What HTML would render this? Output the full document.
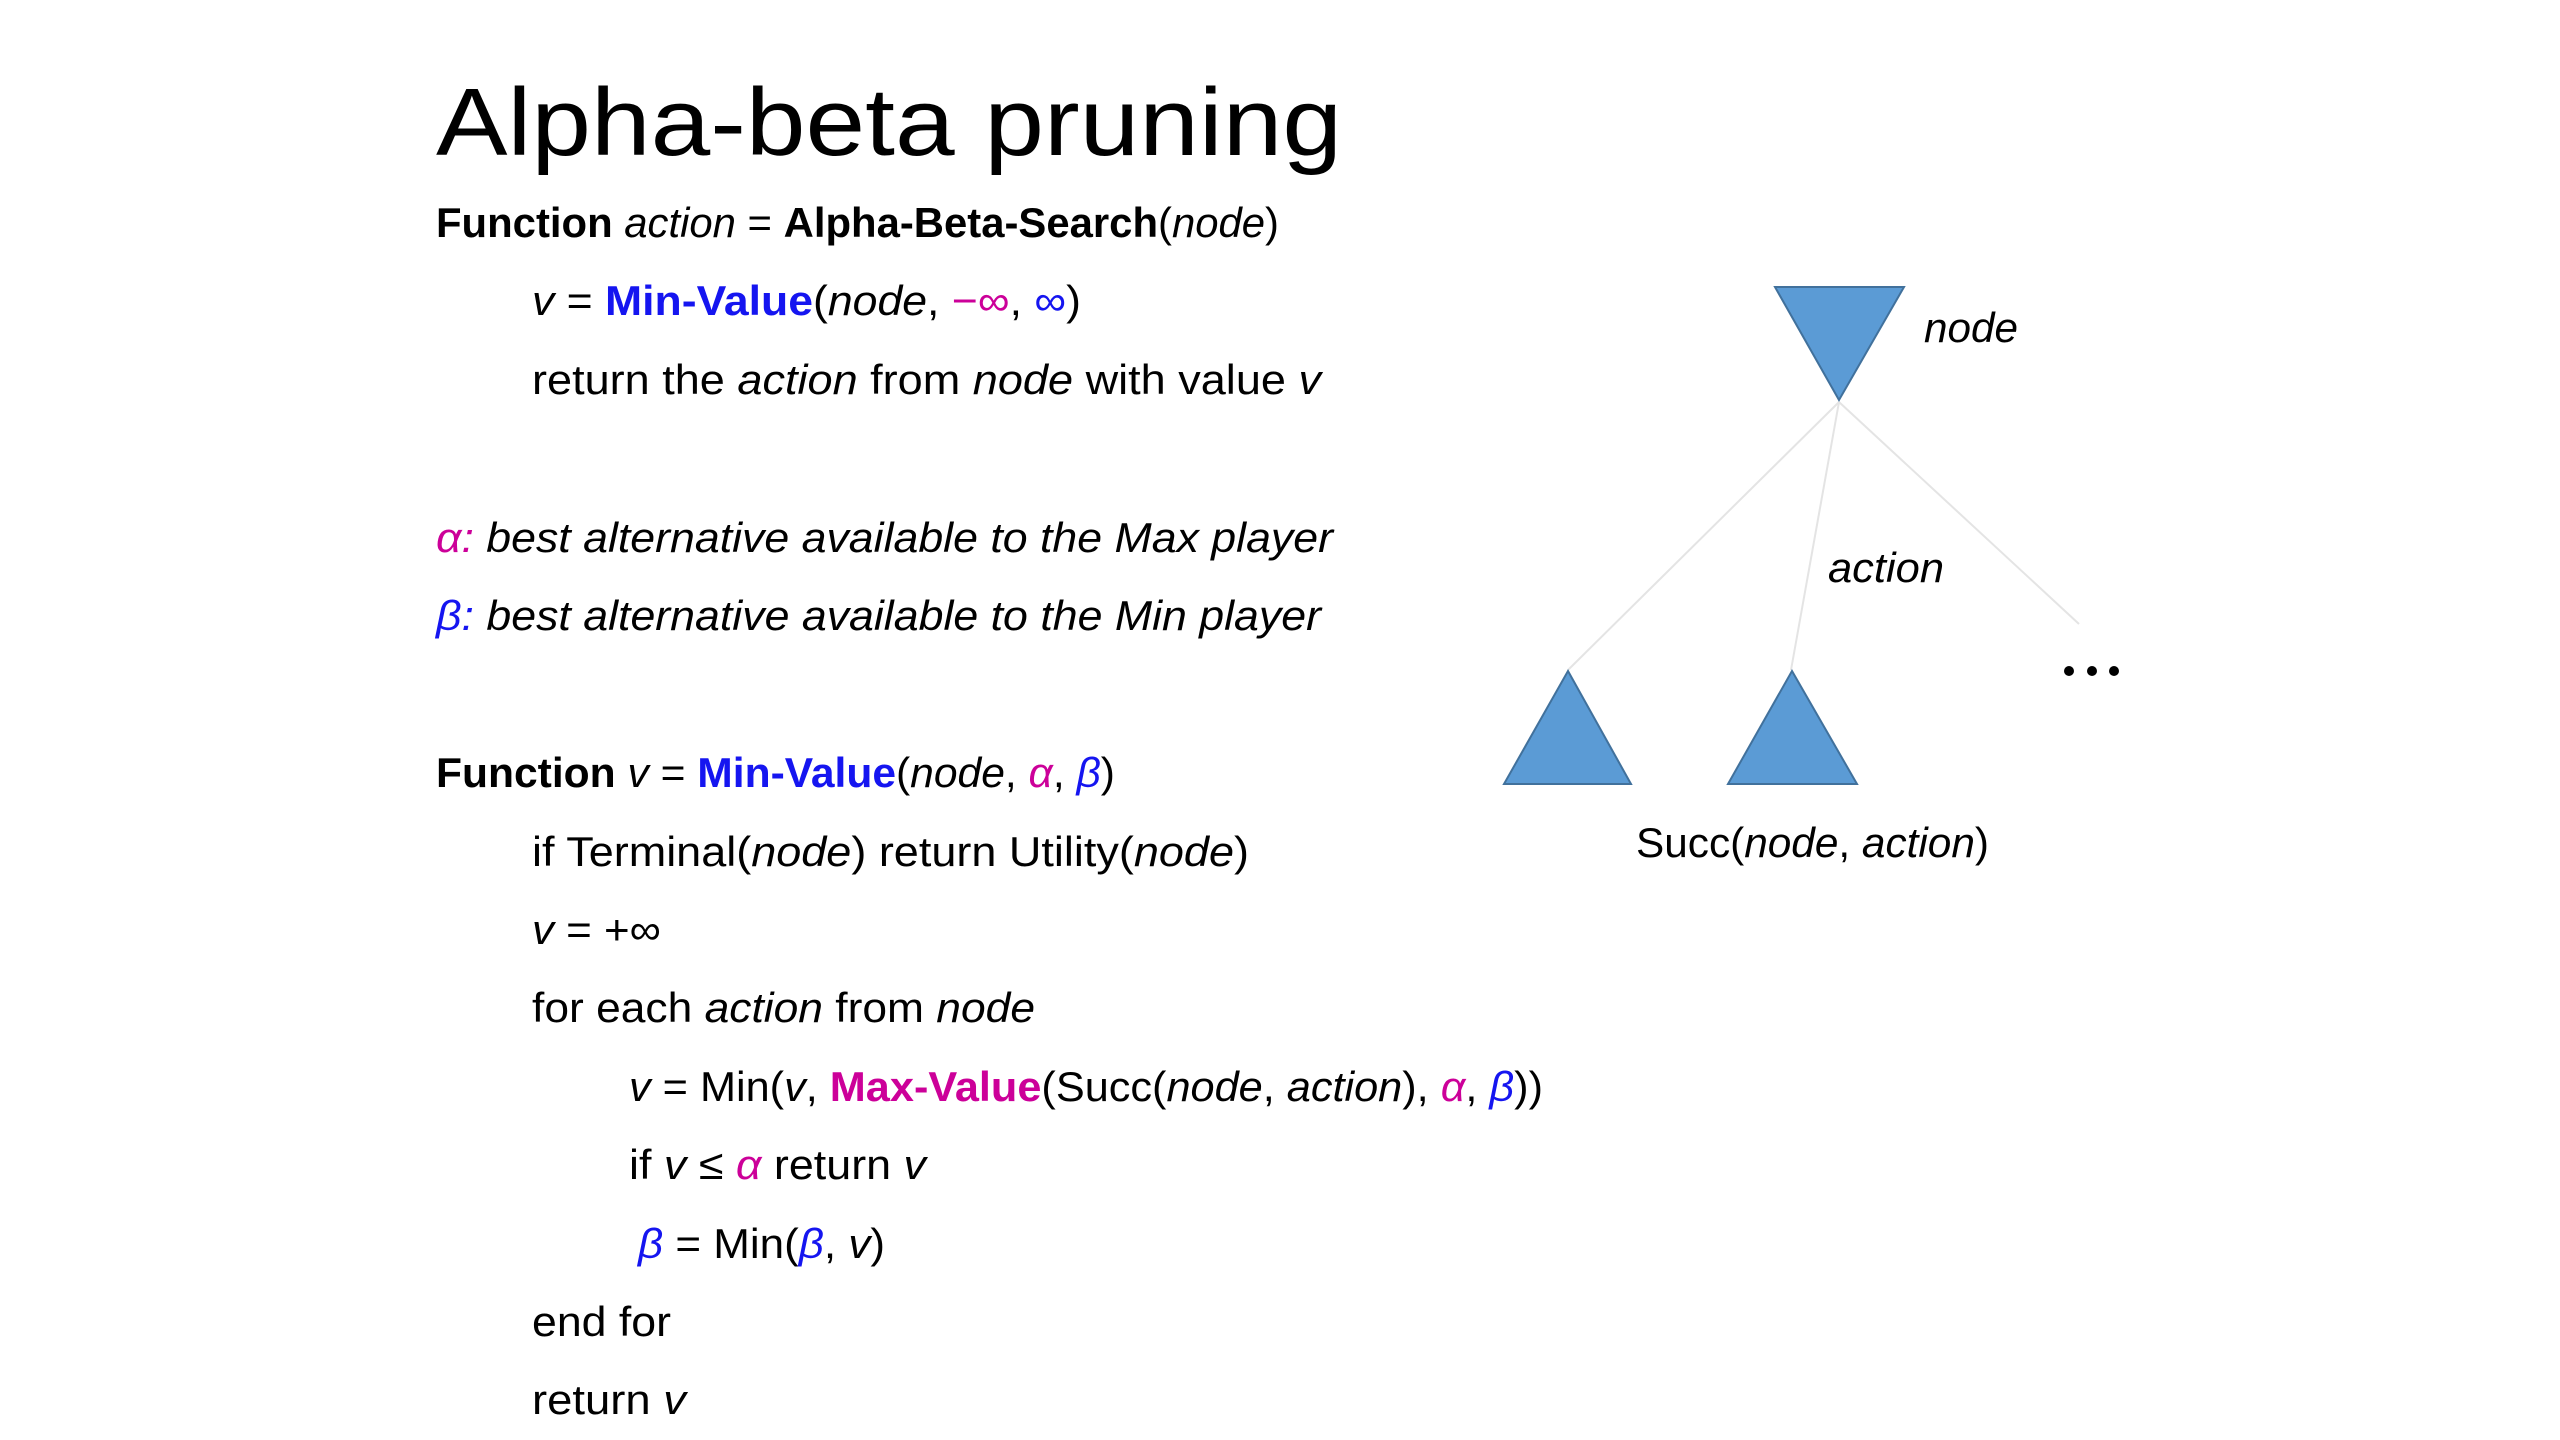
<!DOCTYPE html>
<html><head><meta charset="utf-8"><style>
html,body{margin:0;padding:0;background:#fff;}
svg{display:block;}
text{font-family:"Liberation Sans",sans-serif;font-size:42px;fill:#000;}
.b{font-weight:bold}.i{font-style:italic}
.bl{fill:#1515f0}.mg{fill:#cc0099}
</style></head><body>
<svg width="2560" height="1440" viewBox="0 0 2560 1440" xmlns="http://www.w3.org/2000/svg">
<rect width="2560" height="1440" fill="#fff"/>
<text x="436" y="155" style="font-size:96px" textLength="906" lengthAdjust="spacingAndGlyphs">Alpha-beta pruning</text>

<text x="436" y="237" textLength="843" lengthAdjust="spacingAndGlyphs"><tspan class="b">Function</tspan> <tspan class="i">action</tspan> = <tspan class="b">Alpha-Beta-Search</tspan>(<tspan class="i">node</tspan>)</text>
<text x="532" y="315" textLength="549" lengthAdjust="spacingAndGlyphs"><tspan class="i">v</tspan> = <tspan class="b bl">Min-Value</tspan>(<tspan class="i">node</tspan>, <tspan class="mg">−∞</tspan>, <tspan class="bl">∞</tspan>)</text>
<text x="532" y="394" textLength="789" lengthAdjust="spacingAndGlyphs">return the <tspan class="i">action</tspan> from <tspan class="i">node</tspan> with value <tspan class="i">v</tspan></text>

<text x="436" y="552" class="i" textLength="897" lengthAdjust="spacingAndGlyphs"><tspan class="mg">α:</tspan> best alternative available to the Max player</text>
<text x="436" y="630" class="i" textLength="885" lengthAdjust="spacingAndGlyphs"><tspan class="bl">β:</tspan> best alternative available to the Min player</text>

<text x="436" y="787" textLength="679" lengthAdjust="spacingAndGlyphs"><tspan class="b">Function</tspan> <tspan class="i">v</tspan> = <tspan class="b bl">Min-Value</tspan>(<tspan class="i">node</tspan>, <tspan class="i mg">α</tspan>, <tspan class="i bl">β</tspan>)</text>
<text x="532" y="866" textLength="717" lengthAdjust="spacingAndGlyphs">if Terminal(<tspan class="i">node</tspan>) return Utility(<tspan class="i">node</tspan>)</text>
<text x="532" y="944" textLength="129" lengthAdjust="spacingAndGlyphs"><tspan class="i">v</tspan> = +∞</text>
<text x="532" y="1022" textLength="503" lengthAdjust="spacingAndGlyphs">for each <tspan class="i">action</tspan> from <tspan class="i">node</tspan></text>
<text x="629" y="1101" textLength="914" lengthAdjust="spacingAndGlyphs"><tspan class="i">v</tspan> = Min(<tspan class="i">v</tspan>, <tspan class="b mg">Max-Value</tspan>(Succ(<tspan class="i">node</tspan>, <tspan class="i">action</tspan>), <tspan class="i mg">α</tspan>, <tspan class="i bl">β</tspan>))</text>
<text x="629" y="1179" textLength="297" lengthAdjust="spacingAndGlyphs">if <tspan class="i">v</tspan> ≤ <tspan class="i mg">α</tspan> return <tspan class="i">v</tspan></text>
<text x="638" y="1258" textLength="247" lengthAdjust="spacingAndGlyphs"><tspan class="i bl">β</tspan> = Min(<tspan class="i bl">β</tspan>, <tspan class="i">v</tspan>)</text>
<text x="532" y="1336" textLength="139" lengthAdjust="spacingAndGlyphs">end for</text>
<text x="532" y="1414" textLength="154" lengthAdjust="spacingAndGlyphs">return <tspan class="i">v</tspan></text>

<g stroke="#e4e4e4" stroke-width="2">
<line x1="1839" y1="402" x2="1568" y2="670"/>
<line x1="1839" y1="402" x2="1791" y2="670"/>
<line x1="1839" y1="402" x2="2079" y2="624"/>
</g>
<g fill="#5b9bd5" stroke="#41719c" stroke-width="2">
<polygon points="1775,287 1904,287 1839,400"/>
<polygon points="1568,671 1631,784 1504,784"/>
<polygon points="1792,671 1857,784 1728,784"/>
</g>
<circle cx="2069" cy="671" r="5" fill="#000"/>
<circle cx="2092" cy="671" r="5" fill="#000"/>
<circle cx="2114" cy="671" r="5" fill="#000"/>
<text x="1924" y="342" class="i" textLength="94" lengthAdjust="spacingAndGlyphs">node</text>
<text x="1828" y="582" class="i" textLength="116" lengthAdjust="spacingAndGlyphs">action</text>
<text x="1636" y="857" textLength="353" lengthAdjust="spacingAndGlyphs">Succ(<tspan class="i">node</tspan>, <tspan class="i">action</tspan>)</text>
</svg>
</body></html>
